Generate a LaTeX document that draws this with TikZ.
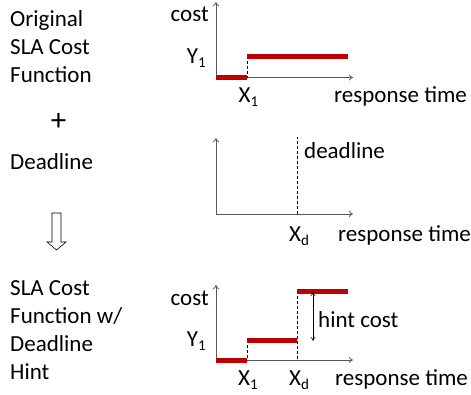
\documentclass[tikz,border=0pt]{standalone}
\usepackage{fontspec}
\setmainfont{Carlito}
\usetikzlibrary{arrows.meta}
\definecolor{slared}{RGB}{192,0,0}
\newcommand{\lowix}[1]{\raisebox{-4pt}{\fontsize{15}{15}\selectfont #1}}

\begin{document}
\begin{tikzpicture}[x=1pt,y=-1pt,
  every node/.style={inner sep=0pt,font=\fontsize{23}{28}\selectfont},
  axis/.style={black!65,line width=0.8pt,-{To[length=4pt,width=6pt]}},
  costseg/.style={slared,line width=5pt},
  guide/.style={densely dashed,line width=0.5pt},
  gap/.style={{To[length=4pt,width=5pt]}-{To[length=4pt,width=5pt]},line width=0.6pt}]
\useasboundingbox (0,0) rectangle (471,394);

% Left column
\node[anchor=north west,align=left] (orig) at (10,10.5) {Original\\SLA Cost\\Function};
\node[font=\fontsize{31}{31}\selectfont] (plus) at (58.5,122) {+};
\node[anchor=north west] (dline) at (10,153) {Deadline};
\draw[line width=0.6pt] (52,213) -- (61,213) -- (61,242) -- (66,242) -- (56.5,250) -- (47,242) -- (52,242) -- cycle;
\node[anchor=north west,align=left] (hinted) at (10,280.5) {SLA Cost\\Function w/\\Deadline\\Hint};

% Original cost function
\coordinate (o1) at (216,77.5);
\coordinate (ytop1) at (216,2);
\coordinate (xend1) at (353,77.5);
\draw[axis] (o1) -- (ytop1);
\draw[axis] (o1) -- (xend1);
\coordinate (p1) at (247,77.5);
\coordinate (q1) at (247,56);
\coordinate (r1) at (348,56);
\draw[guide] (q1) -- (p1);
\draw[costseg] (o1) -- (p1);
\draw[costseg] (q1) -- (r1);
\node[anchor=base east] (cost1) at (209,21.5) {cost};
\node[anchor=base east] (ylab1) at (206,63) {Y\lowix{1}};
\node[anchor=base west] (xlab1) at (238.5,102) {X\lowix{1}};
\node[anchor=base west] (resp1) at (334,102) {response time};

% Deadline
\coordinate (o2) at (216,214);
\coordinate (ytop2) at (216,138);
\coordinate (xend2) at (353,214);
\draw[axis] (o2) -- (ytop2);
\draw[axis] (o2) -- (xend2);
\coordinate (d2) at (297,214);
\coordinate (dtop2) at (297,137);
\draw[guide] (d2) -- (dtop2);
\node[anchor=base west] (dlab) at (304,158) {deadline};
\node[anchor=base west] (xdlab2) at (289,241) {X\lowix{d}};
\node[anchor=base west] (resp2) at (338,241) {response time};

% Cost function with hint
\coordinate (o3) at (216,360);
\coordinate (ytop3) at (216,285);
\coordinate (xend3) at (353,360);
\draw[axis] (o3) -- (ytop3);
\draw[axis] (o3) -- (xend3);
\coordinate (p3) at (247,360);
\coordinate (q3) at (247,340);
\coordinate (s3) at (297,340);
\coordinate (d3) at (297,360);
\coordinate (t3) at (297,291);
\coordinate (r3) at (348,291);
\draw[guide] (q3) -- (p3);
\draw[guide] (t3) -- (d3);
\draw[costseg] (o3) -- (p3);
\draw[costseg] (q3) -- (s3);
\draw[costseg] (t3) -- (r3);
\coordinate (hhi) at (313,292);
\coordinate (hlo) at (313,341);
\draw[gap] (hhi) -- (hlo);
\node[anchor=base west] (hint) at (318,327) {hint cost};
\node[anchor=base east] (cost3) at (209,305) {cost};
\node[anchor=base east] (ylab3) at (206,346) {Y\lowix{1}};
\node[anchor=base west] (xlab3) at (238,385) {X\lowix{1}};
\node[anchor=base west] (xdlab3) at (289,385) {X\lowix{d}};
\node[anchor=base west] (resp3) at (335,385) {response time};
\end{tikzpicture}
\end{document}
